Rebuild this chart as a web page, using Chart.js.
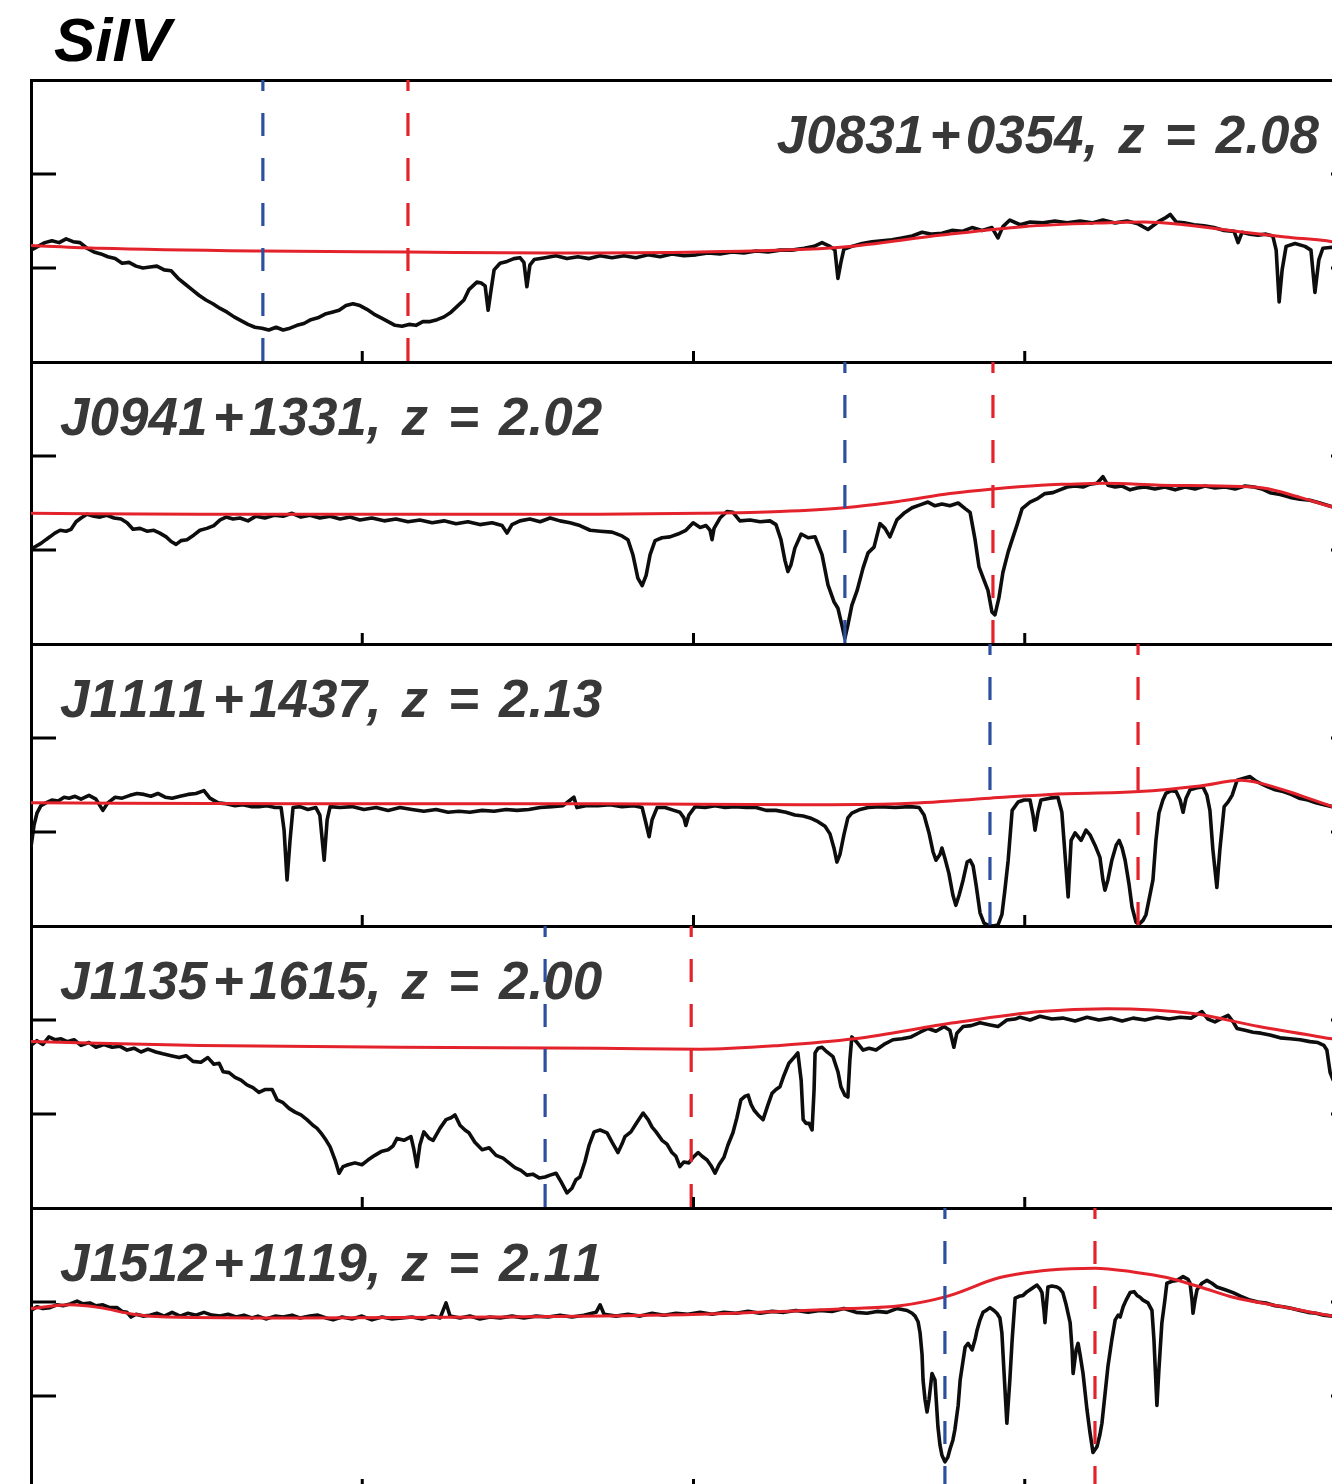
<!DOCTYPE html>
<html>
<head>
<meta charset="utf-8">
<script src="https://cdn.jsdelivr.net/npm/chart.js@4.4.1/dist/chart.umd.min.js"></script>
<style>
html,body{margin:0;padding:0;background:#fff;overflow:hidden;}
#wrap{position:relative;width:1332px;height:1484px;overflow:hidden;background:#fff;}
#wrap canvas{position:absolute;left:0;}
.lbl{position:absolute;font-family:"Liberation Sans",Arial,Helvetica,sans-serif;font-weight:bold;font-style:italic;font-size:53px;color:#383838;white-space:pre;line-height:1;word-spacing:0.1em;font-kerning:none;font-feature-settings:"kern" 0;}
.lbl .op{margin:0 0.1em;}
#title{position:absolute;left:54px;top:9px;font-family:"Liberation Sans",Arial,Helvetica,sans-serif;font-weight:bold;font-style:italic;font-size:62px;color:#000;line-height:1;white-space:pre;}
</style>
</head>
<body>
<div id="wrap"><div id="title">SiIV</div></div>
<script>
// ---------------- data ----------------
const quasarNames = ['J0831+0354','J0941+1331','J1111+1437','J1135+1615','J1512+1119'];
const redshifts = ['2.08','2.02','2.13','2.00','2.11'];
const xTickValues = [1,2,3];
const yTickValues = [1,2];
const troughBlueX = [0.700, 2.457, 2.895, 1.552, 2.759];
const troughRedX  = [1.138, 2.904, 3.342, 1.993, 3.212];

const spec1X = [0,0.021,0.042,0.063,0.085,0.106,0.127,0.148,0.169,0.190,
0.211,0.232,0.254,0.275,0.296,0.317,0.338,0.359,0.380,0.402,
0.423,0.444,0.465,0.486,0.507,0.528,0.549,0.571,0.592,0.613,
0.634,0.655,0.676,0.697,0.718,0.740,0.761,0.782,0.803,0.824,
0.845,0.866,0.888,0.909,0.930,0.951,0.972,0.993,1.014,1.035,
1.057,1.078,1.099,1.120,1.141,1.162,1.183,1.205,1.226,1.247,
1.268,1.289,1.307,1.322,1.334,1.346,1.359,1.371,1.380,1.389,
1.398,1.416,1.437,1.458,1.476,1.488,1.497,1.506,1.519,1.552,
1.585,1.618,1.651,1.685,1.718,1.754,1.790,1.826,1.863,1.899,
1.935,1.971,2.008,2.044,2.080,2.116,2.152,2.189,2.225,2.261,
2.297,2.334,2.364,2.388,2.412,2.427,2.436,2.445,2.454,2.478,
2.509,2.539,2.569,2.599,2.629,2.660,2.690,2.720,2.750,2.780,
2.811,2.841,2.871,2.901,2.919,2.934,2.955,2.986,3.016,3.055,
3.091,3.128,3.167,3.203,3.236,3.273,3.309,3.342,3.372,3.402,
3.423,3.439,3.457,3.481,3.511,3.541,3.571,3.602,3.632,3.644,
3.656,3.680,3.704,3.728,3.749,3.759,3.768,3.777,3.789,3.816,
3.846,3.864,3.876,3.888,3.900,3.928,3.967,4.000];
const spec1Y = [1.19,1.23,1.27,1.29,1.27,1.31,1.28,1.27,1.21,1.17,
1.15,1.12,1.10,1.05,1.06,1.02,1.00,1.01,1.02,0.98,
0.97,0.89,0.83,0.77,0.71,0.66,0.62,0.57,0.53,0.48,
0.44,0.40,0.37,0.36,0.34,0.37,0.34,0.36,0.39,0.41,
0.45,0.47,0.51,0.53,0.55,0.60,0.62,0.60,0.56,0.51,
0.47,0.43,0.39,0.38,0.40,0.39,0.43,0.43,0.45,0.48,
0.53,0.60,0.66,0.77,0.81,0.85,0.84,0.81,0.55,0.77,
0.98,1.05,1.07,1.10,1.11,1.06,0.80,1.03,1.09,1.11,
1.13,1.10,1.12,1.10,1.13,1.11,1.13,1.11,1.14,1.12,
1.15,1.13,1.14,1.16,1.15,1.17,1.16,1.18,1.17,1.19,
1.19,1.21,1.23,1.27,1.23,1.19,0.89,1.06,1.20,1.23,
1.26,1.28,1.29,1.30,1.32,1.34,1.38,1.36,1.37,1.40,
1.39,1.43,1.40,1.43,1.32,1.44,1.51,1.46,1.49,1.48,
1.50,1.48,1.50,1.48,1.51,1.48,1.50,1.47,1.41,1.49,
1.53,1.57,1.49,1.48,1.46,1.45,1.43,1.40,1.39,1.27,
1.38,1.36,1.35,1.36,1.34,1.19,0.64,0.98,1.23,1.26,
1.23,1.19,0.74,1.09,1.21,1.22,1.19,1.17];
const cont1X = [0,0.208,0.700,1.138,1.567,2.020,2.445,2.750,2.995,3.236,3.360,3.481,3.662,3.786,3.928,4.0];
const cont1Y = [1.24,1.21,1.18,1.17,1.16,1.17,1.22,1.35,1.44,1.48,1.49,1.46,1.38,1.33,1.28,1.23];

const spec2X = [0,0.015,0.030,0.045,0.057,0.072,0.088,0.106,0.121,0.136,
0.151,0.169,0.190,0.208,0.229,0.251,0.272,0.290,0.308,0.329,
0.350,0.371,0.389,0.408,0.423,0.438,0.453,0.471,0.492,0.510,
0.531,0.552,0.571,0.589,0.610,0.631,0.655,0.679,0.706,0.734,
0.761,0.788,0.815,0.842,0.872,0.903,0.933,0.963,0.993,1.029,
1.066,1.102,1.138,1.174,1.211,1.247,1.283,1.319,1.355,1.392,
1.422,1.437,1.452,1.476,1.506,1.537,1.567,1.597,1.627,1.657,
1.688,1.718,1.754,1.784,1.802,1.817,1.832,1.845,1.857,1.869,
1.884,1.905,1.929,1.953,1.977,1.999,2.020,2.038,2.050,2.056,
2.062,2.080,2.101,2.119,2.140,2.171,2.201,2.231,2.249,2.264,
2.276,2.285,2.294,2.306,2.325,2.346,2.367,2.388,2.406,2.424,
2.436,2.448,2.457,2.466,2.478,2.494,2.512,2.527,2.545,2.563,
2.578,2.593,2.614,2.635,2.660,2.684,2.708,2.729,2.750,2.774,
2.799,2.820,2.835,2.850,2.862,2.877,2.889,2.901,2.910,2.922,
2.934,2.950,2.962,2.977,2.992,3.016,3.040,3.061,3.085,3.106,
3.128,3.152,3.176,3.197,3.218,3.236,3.251,3.273,3.294,3.318,
3.339,3.363,3.393,3.423,3.454,3.484,3.514,3.544,3.574,3.605,
3.635,3.665,3.692,3.716,3.740,3.771,3.801,3.831,3.861,3.891,
3.928,3.967,4.000];
const spec2Y = [1.01,1.04,1.07,1.11,1.14,1.18,1.21,1.20,1.22,1.30,
1.34,1.38,1.36,1.35,1.37,1.34,1.33,1.29,1.22,1.23,
1.20,1.21,1.18,1.14,1.09,1.06,1.10,1.11,1.16,1.21,
1.23,1.26,1.32,1.35,1.33,1.34,1.31,1.36,1.34,1.37,
1.36,1.39,1.35,1.37,1.34,1.36,1.33,1.35,1.32,1.34,
1.31,1.33,1.30,1.32,1.29,1.31,1.28,1.30,1.27,1.29,
1.26,1.18,1.27,1.31,1.33,1.30,1.34,1.31,1.29,1.26,
1.21,1.20,1.19,1.15,1.11,0.95,0.70,0.62,0.73,0.95,
1.10,1.13,1.14,1.17,1.21,1.29,1.24,1.26,1.21,1.11,
1.23,1.34,1.41,1.40,1.31,1.32,1.30,1.31,1.27,1.11,
0.89,0.77,0.84,1.02,1.17,1.13,1.14,0.95,0.63,0.45,
0.38,0.20,0.06,0.20,0.41,0.57,0.81,0.97,1.03,1.28,
1.23,1.14,1.32,1.39,1.45,1.48,1.51,1.47,1.49,1.47,
1.50,1.44,1.40,1.11,0.82,0.68,0.57,0.34,0.31,0.49,
0.76,0.98,1.11,1.27,1.44,1.51,1.55,1.60,1.61,1.64,
1.67,1.68,1.67,1.70,1.71,1.78,1.69,1.67,1.68,1.64,
1.66,1.67,1.65,1.67,1.64,1.67,1.65,1.68,1.66,1.67,
1.65,1.68,1.67,1.65,1.61,1.59,1.56,1.54,1.53,1.50,
1.46,1.41,1.38];
const cont2X = [0,0.510,1.114,1.718,2.020,2.261,2.457,2.623,2.774,2.904,3.049,3.128,3.242,3.408,3.589,3.719,3.831,3.928,4.0];
const cont2Y = [1.39,1.38,1.38,1.38,1.39,1.41,1.45,1.52,1.60,1.65,1.69,1.70,1.71,1.69,1.68,1.66,1.56,1.46,1.41];

const spec3X = [0,0.009,0.018,0.030,0.045,0.063,0.082,0.100,0.115,0.133,
0.151,0.175,0.196,0.217,0.232,0.254,0.275,0.299,0.320,0.341,
0.362,0.383,0.405,0.426,0.450,0.474,0.498,0.522,0.540,0.565,
0.589,0.616,0.640,0.664,0.688,0.712,0.737,0.755,0.764,0.773,
0.782,0.791,0.812,0.836,0.860,0.872,0.885,0.894,0.903,0.933,
0.969,1.005,1.042,1.078,1.114,1.150,1.186,1.223,1.259,1.292,
1.325,1.362,1.398,1.434,1.467,1.503,1.537,1.573,1.606,1.639,
1.648,1.675,1.712,1.748,1.784,1.820,1.845,1.854,1.866,1.875,
1.890,1.914,1.941,1.959,1.971,1.977,1.986,2.005,2.035,2.065,
2.095,2.125,2.159,2.189,2.219,2.249,2.279,2.306,2.331,2.352,
2.376,2.397,2.412,2.424,2.433,2.442,2.454,2.466,2.478,2.503,
2.527,2.563,2.608,2.654,2.681,2.696,2.711,2.723,2.732,2.744,
2.750,2.759,2.771,2.783,2.792,2.802,2.814,2.826,2.835,2.844,
2.853,2.865,2.877,2.889,2.904,2.919,2.931,2.940,2.950,2.962,
2.980,2.998,3.016,3.025,3.031,3.040,3.049,3.076,3.100,3.112,
3.125,3.131,3.140,3.152,3.170,3.185,3.197,3.212,3.227,3.236,
3.242,3.251,3.263,3.276,3.285,3.294,3.303,3.315,3.324,3.336,
3.345,3.357,3.366,3.378,3.387,3.396,3.405,3.417,3.426,3.442,
3.457,3.469,3.478,3.487,3.499,3.520,3.538,3.550,3.559,3.568,
3.580,3.589,3.602,3.614,3.626,3.641,3.659,3.680,3.698,3.716,
3.734,3.756,3.780,3.804,3.828,3.855,3.879,3.903,3.928,3.967,
4.000];
const spec3Y = [0.84,1.07,1.20,1.28,1.31,1.34,1.33,1.37,1.36,1.38,
1.35,1.39,1.35,1.23,1.31,1.37,1.36,1.39,1.41,1.40,
1.38,1.41,1.37,1.36,1.38,1.40,1.41,1.44,1.36,1.31,
1.30,1.28,1.29,1.27,1.27,1.28,1.26,1.26,1.02,0.49,
0.91,1.26,1.27,1.24,1.26,1.18,0.70,1.13,1.27,1.26,
1.27,1.24,1.26,1.23,1.26,1.24,1.22,1.24,1.21,1.22,
1.21,1.23,1.22,1.24,1.23,1.24,1.26,1.27,1.28,1.37,
1.26,1.28,1.28,1.29,1.27,1.28,1.26,1.13,0.95,1.13,
1.26,1.26,1.23,1.21,1.15,1.07,1.18,1.27,1.26,1.28,
1.26,1.27,1.26,1.26,1.23,1.23,1.21,1.18,1.17,1.15,
1.11,1.06,0.98,0.83,0.68,0.76,0.97,1.15,1.20,1.24,
1.26,1.27,1.26,1.27,1.26,1.18,0.99,0.79,0.70,0.76,
0.83,0.72,0.56,0.33,0.22,0.33,0.49,0.68,0.70,0.64,
0.44,0.14,0.03,0.01,0.00,0.01,0.12,0.38,0.70,1.23,
1.32,1.34,1.34,1.18,1.02,1.21,1.34,1.36,1.37,1.21,
0.60,0.31,0.91,0.99,0.91,1.02,0.97,0.86,0.73,0.49,
0.38,0.49,0.70,0.86,0.91,0.83,0.70,0.44,0.20,0.04,
0.02,0.06,0.12,0.33,0.49,0.91,1.20,1.34,1.41,1.44,
1.43,1.34,1.21,1.36,1.45,1.47,1.48,1.39,1.23,0.81,
0.41,0.81,1.27,1.32,1.39,1.55,1.57,1.59,1.54,1.51,
1.48,1.45,1.43,1.40,1.36,1.34,1.31,1.29,1.27,1.21,
1.17];
const cont3X = [0,0.812,1.718,2.322,2.623,2.895,3.076,3.345,3.529,3.653,3.710,3.831,3.928,4.0];
const cont3Y = [1.31,1.30,1.30,1.29,1.30,1.36,1.40,1.43,1.49,1.55,1.52,1.39,1.27,1.18];

const spec4X = [0,0.018,0.036,0.054,0.072,0.091,0.109,0.130,0.151,0.175,
0.196,0.220,0.245,0.269,0.290,0.311,0.332,0.353,0.377,0.398,
0.423,0.447,0.468,0.489,0.513,0.534,0.552,0.568,0.580,0.598,
0.616,0.634,0.652,0.670,0.688,0.706,0.728,0.743,0.761,0.779,
0.797,0.815,0.833,0.851,0.863,0.875,0.891,0.903,0.918,0.930,
0.942,0.957,0.978,0.999,1.017,1.038,1.057,1.078,1.093,1.105,
1.126,1.147,1.156,1.165,1.174,1.186,1.202,1.214,1.235,1.253,
1.268,1.280,1.295,1.310,1.322,1.340,1.362,1.383,1.404,1.425,
1.443,1.461,1.479,1.497,1.515,1.534,1.552,1.567,1.585,1.600,
1.618,1.633,1.645,1.657,1.672,1.685,1.700,1.718,1.739,1.754,
1.772,1.784,1.793,1.811,1.829,1.848,1.863,1.875,1.887,1.905,
1.920,1.935,1.947,1.959,1.971,1.986,1.999,2.014,2.026,2.041,
2.053,2.065,2.077,2.092,2.104,2.119,2.131,2.143,2.156,2.165,
2.174,2.183,2.195,2.210,2.225,2.237,2.249,2.261,2.273,2.288,
2.303,2.315,2.325,2.331,2.340,2.349,2.358,2.364,2.367,2.376,
2.388,2.403,2.421,2.436,2.445,2.457,2.466,2.472,2.478,2.494,
2.512,2.530,2.551,2.575,2.602,2.629,2.657,2.684,2.708,2.732,
2.756,2.774,2.786,2.795,2.814,2.838,2.865,2.892,2.919,2.946,
2.971,2.986,3.016,3.046,3.082,3.115,3.152,3.188,3.224,3.260,
3.294,3.327,3.363,3.399,3.436,3.469,3.502,3.535,3.553,3.574,
3.596,3.614,3.629,3.641,3.665,3.689,3.713,3.740,3.771,3.801,
3.831,3.861,3.885,3.903,3.912,3.922,3.931,3.967,4.000];
const spec4Y = [1.73,1.78,1.74,1.82,1.79,1.80,1.77,1.79,1.73,1.76,
1.71,1.74,1.71,1.72,1.68,1.70,1.66,1.69,1.66,1.64,
1.62,1.60,1.62,1.56,1.55,1.60,1.53,1.54,1.45,1.44,
1.39,1.36,1.31,1.28,1.23,1.26,1.26,1.15,1.12,1.06,
1.02,0.99,0.94,0.88,0.85,0.80,0.72,0.65,0.51,0.37,
0.44,0.46,0.48,0.46,0.51,0.56,0.60,0.62,0.66,0.74,
0.72,0.76,0.62,0.44,0.67,0.81,0.74,0.72,0.85,0.94,
0.96,0.99,0.88,0.83,0.80,0.70,0.62,0.64,0.56,0.53,
0.48,0.43,0.40,0.35,0.36,0.32,0.33,0.35,0.37,0.28,
0.16,0.21,0.30,0.33,0.49,0.67,0.81,0.83,0.80,0.70,
0.59,0.68,0.76,0.81,0.91,1.01,0.94,0.86,0.81,0.72,
0.68,0.59,0.55,0.44,0.49,0.48,0.54,0.59,0.55,0.51,
0.45,0.37,0.46,0.54,0.67,0.80,0.96,1.15,1.19,1.20,
1.10,1.04,0.99,0.94,1.10,1.22,1.26,1.29,1.41,1.54,
1.60,1.65,1.36,0.94,0.90,0.90,0.83,1.26,1.65,1.70,
1.71,1.66,1.61,1.45,1.29,1.20,1.18,1.57,1.82,1.76,
1.68,1.70,1.68,1.74,1.79,1.80,1.82,1.87,1.91,1.88,
1.93,1.89,1.71,1.86,1.93,1.94,1.97,1.95,1.93,2.00,
2.01,2.03,2.00,2.04,2.01,2.02,1.99,2.03,2.00,2.02,
1.99,2.02,2.00,2.03,2.01,2.03,2.02,2.09,2.01,1.98,
2.02,2.05,1.98,1.91,1.89,1.87,1.86,1.84,1.81,1.80,
1.79,1.77,1.76,1.73,1.68,1.44,1.36,1.34,1.33];
const cont4X = [0,0.510,1.114,1.718,2.020,2.261,2.485,2.786,3.049,3.248,3.508,3.707,3.928,4.0];
const cont4Y = [1.77,1.73,1.71,1.70,1.69,1.73,1.80,1.97,2.09,2.12,2.07,1.93,1.80,1.76];

const spec5X = [0,0.018,0.036,0.057,0.078,0.097,0.118,0.139,0.157,0.178,
0.196,0.217,0.238,0.260,0.275,0.290,0.302,0.317,0.338,0.359,
0.380,0.402,0.426,0.450,0.474,0.498,0.522,0.546,0.571,0.595,
0.619,0.643,0.667,0.685,0.709,0.737,0.761,0.788,0.812,0.842,
0.866,0.891,0.912,0.939,0.969,0.999,1.029,1.060,1.090,1.120,
1.150,1.180,1.211,1.235,1.253,1.265,1.295,1.325,1.355,1.386,
1.416,1.452,1.488,1.525,1.561,1.597,1.633,1.669,1.706,1.718,
1.730,1.766,1.802,1.839,1.875,1.911,1.947,1.983,2.020,2.056,
2.092,2.128,2.165,2.201,2.237,2.273,2.309,2.346,2.382,2.418,
2.454,2.491,2.524,2.554,2.584,2.614,2.645,2.660,2.669,2.678,
2.684,2.690,2.693,2.699,2.705,2.711,2.720,2.729,2.738,2.744,
2.750,2.759,2.768,2.774,2.783,2.789,2.799,2.805,2.814,2.820,
2.829,2.841,2.850,2.856,2.865,2.874,2.883,2.895,2.907,2.916,
2.925,2.931,2.937,2.946,2.955,2.962,2.971,2.983,2.995,3.007,
3.016,3.028,3.037,3.046,3.052,3.058,3.061,3.064,3.070,3.082,
3.097,3.106,3.115,3.125,3.137,3.143,3.146,3.155,3.161,3.167,
3.176,3.188,3.197,3.206,3.218,3.227,3.233,3.242,3.251,3.263,
3.273,3.282,3.288,3.297,3.306,3.318,3.330,3.339,3.348,3.357,
3.372,3.384,3.390,3.399,3.405,3.414,3.423,3.429,3.445,3.460,
3.478,3.493,3.499,3.505,3.508,3.514,3.520,3.535,3.550,3.565,
3.580,3.605,3.629,3.653,3.680,3.704,3.728,3.756,3.780,3.807,
3.831,3.855,3.879,3.903,3.928,3.967,4.000];
const spec5Y = [1.91,1.95,1.93,1.94,1.97,1.96,1.98,2.01,1.98,1.99,
1.96,1.97,1.94,1.94,1.90,1.89,1.84,1.87,1.85,1.86,
1.88,1.85,1.89,1.85,1.88,1.86,1.89,1.86,1.85,1.87,
1.84,1.86,1.83,1.85,1.82,1.85,1.84,1.86,1.83,1.85,
1.86,1.83,1.81,1.84,1.82,1.85,1.81,1.84,1.82,1.83,
1.84,1.82,1.85,1.83,1.99,1.85,1.83,1.85,1.82,1.84,
1.83,1.85,1.83,1.85,1.84,1.86,1.84,1.86,1.89,1.97,
1.87,1.85,1.87,1.85,1.88,1.86,1.88,1.87,1.89,1.87,
1.89,1.88,1.90,1.88,1.90,1.89,1.91,1.89,1.91,1.90,
1.93,1.89,1.88,1.90,1.89,1.93,1.91,1.88,1.85,1.79,
1.67,1.44,1.17,0.96,0.83,0.96,1.24,1.17,0.67,0.48,
0.37,0.30,0.35,0.43,0.53,0.64,0.90,1.17,1.38,1.52,
1.56,1.49,1.60,1.70,1.81,1.89,1.91,1.94,1.91,1.88,
1.83,1.67,1.28,0.71,1.17,1.60,2.04,2.06,2.07,2.11,
2.13,2.16,2.18,2.14,2.10,1.91,1.78,1.91,2.16,2.17,
2.16,2.14,2.10,1.97,1.78,1.49,1.24,1.49,1.56,1.44,
1.24,0.85,0.61,0.40,0.46,0.59,0.71,1.01,1.31,1.60,
1.81,1.86,1.84,1.95,2.02,2.10,2.11,2.07,2.05,2.02,
1.99,1.91,1.60,0.90,1.28,1.78,2.02,2.20,2.22,2.23,
2.27,2.24,2.20,2.02,1.88,2.02,2.13,2.20,2.23,2.20,
2.16,2.13,2.10,2.06,2.02,2.00,1.99,1.96,1.95,1.93,
1.91,1.89,1.88,1.86,1.85,1.83,1.81];
const cont5X = [0,0.118,0.208,0.308,0.411,0.812,1.416,2.020,2.472,2.623,2.765,2.925,3.076,3.212,3.327,3.429,3.529,3.629,3.780,3.928,4.0];
const cont5Y = [1.93,1.97,1.94,1.87,1.84,1.83,1.84,1.87,1.93,1.96,2.06,2.26,2.34,2.36,2.32,2.26,2.16,2.05,1.95,1.85,1.81];

// ---------------- drawing ----------------
const specX = [spec1X, spec2X, spec3X, spec4X, spec5X];
const specY = [spec1Y, spec2Y, spec3Y, spec4Y, spec5Y];
const contX = [cont1X, cont2X, cont3X, cont4X, cont5X];
const contY = [cont1Y, cont2Y, cont3Y, cont4Y, cont5Y];

const PANEL_TOP = 80, PANEL_H = 282, PAD = 2;
const wrap = document.getElementById('wrap');
const pts = (xs, ys) => xs.map((x, k) => ({x: x, y: ys[k]}));

const innerTicks = {
  id: 'innerTicks',
  afterDraw(chart) {
    const {ctx, chartArea: a, scales: {x, y}} = chart;
    ctx.save();
    ctx.strokeStyle = '#000';
    ctx.lineWidth = 3;
    ctx.beginPath();
    xTickValues.forEach(v => {
      const p = x.getPixelForValue(v);
      ctx.moveTo(p, a.bottom); ctx.lineTo(p, a.bottom - 11);
    });
    yTickValues.forEach(v => {
      const p = y.getPixelForValue(v);
      ctx.moveTo(a.left, p); ctx.lineTo(a.left + 25, p);
      ctx.moveTo(a.right, p); ctx.lineTo(a.right - 25, p);
    });
    ctx.stroke();
    ctx.restore();
  }
};

const axisBorder = {display: true, color: '#000', width: 3};

for (let i = 0; i < 5; i++) {
  const c = document.createElement('canvas');
  c.width = 1358; c.height = PANEL_H + 2 * PAD;
  c.style.top = (PANEL_TOP + i * PANEL_H - PAD) + 'px';
  wrap.appendChild(c);

  new Chart(c, {
    type: 'line',
    data: {
      datasets: [
        {data: pts(specX[i], specY[i]), borderColor: '#0d0d0d', borderWidth: 3.6,
         pointRadius: 0, tension: 0, borderJoinStyle: 'round', order: 3},
        {data: pts(contX[i], contY[i]), borderColor: '#e3222b', borderWidth: 3,
         pointRadius: 0, cubicInterpolationMode: 'monotone', order: 2},
        {data: [{x: troughBlueX[i], y: 3}, {x: troughBlueX[i], y: 0}], borderColor: '#2d4f9f',
         borderWidth: 3.2, borderDash: [23, 22], borderDashOffset: 12, pointRadius: 0, order: 1},
        {data: [{x: troughRedX[i], y: 3}, {x: troughRedX[i], y: 0}], borderColor: '#e3222b',
         borderWidth: 3.2, borderDash: [23, 22], borderDashOffset: 12, pointRadius: 0, order: 1}
      ]
    },
    options: {
      responsive: false,
      animation: false,
      events: [],
      layout: {padding: {left: 31, right: 2, top: PAD, bottom: PAD}},
      plugins: {legend: {display: false}, tooltip: {enabled: false}, title: {display: false}},
      scales: {
        x: {type: 'linear', position: 'bottom', min: 0, max: 4,
            ticks: {display: false, stepSize: 1},
            grid: {display: false, drawTicks: false}, border: axisBorder},
        xTop: {type: 'linear', position: 'top', min: 0, max: 4,
            ticks: {display: false}, grid: {display: false, drawTicks: false}, border: axisBorder},
        y: {type: 'linear', position: 'left', min: 0, max: 3,
            ticks: {display: false, stepSize: 1},
            grid: {display: false, drawTicks: false}, border: axisBorder}
      }
    },
    plugins: [innerTicks]
  });

  const lbl = document.createElement('div');
  lbl.className = 'lbl';
  const [a, b] = quasarNames[i].split('+');
  lbl.innerHTML = a + '<span class="op">+</span>' + b + ', z = ' + redshifts[i];
  lbl.style.top = (PANEL_TOP + i * PANEL_H + 28) + 'px';
  if (i === 0) { lbl.style.right = '13px'; } else { lbl.style.left = '60px'; }
  wrap.appendChild(lbl);
}
</script>
</body>
</html>
